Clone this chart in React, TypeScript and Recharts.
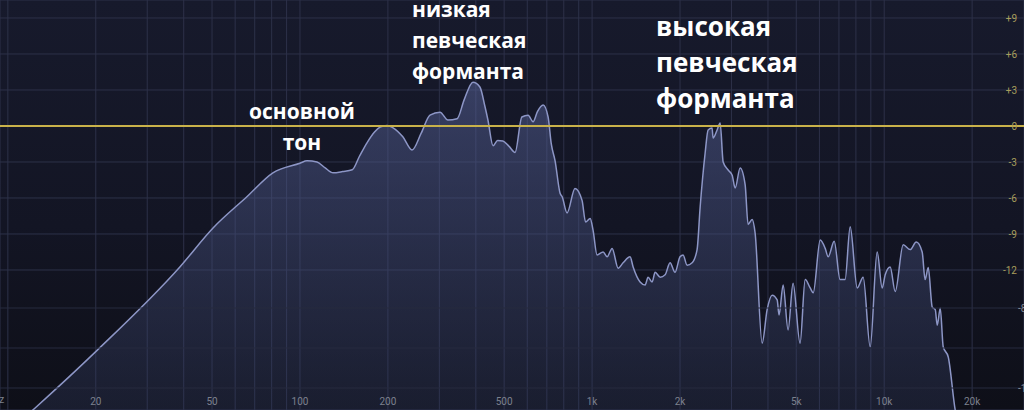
import { ComposedChart, Area, XAxis, YAxis, CartesianGrid, ReferenceLine } from "recharts";

// spectrum of a sung vowel (Hz / dB)
const freqs = [
  11.4, 12.4, 20.2, 38.8, 50.4, 65.8, 80.8, 100, 105.7, 114.4,
  122, 129.7, 140, 151, 160, 169.6, 180, 187.9, 198.6, 208.2,
  225, 241.9, 260, 278.7, 301.6, 321, 345, 365, 391, 413,
  430, 440, 458, 475, 495, 520, 545, 575, 604, 628,
  650, 680, 707, 725, 747, 777, 790, 821, 874, 924,
  950, 985, 1008, 1040, 1091, 1126, 1171, 1228, 1277, 1349,
  1382, 1460, 1519, 1555, 1605, 1644, 1710, 1778, 1849, 1923,
  2000, 2049, 2115, 2200, 2288, 2344, 2438, 2496, 2575, 2595,
  2679, 2744, 2810, 2923, 3017, 3089, 3212, 3342, 3420, 3531,
  3614, 3821, 3974, 4134, 4301, 4366, 4508, 4688, 4875, 5152,
  5364, 5580, 5714, 6039, 6281, 6431, 6744, 7063, 7346, 7647,
  8085, 8472, 8954, 9460, 9842, 10080, 10484, 10906, 11614, 12274,
  12874, 13490, 13804, 14150, 14603, 14953, 15190, 15554, 15922, 16566,
  17500, 18200,
];
const levels = [
  -24.3, -23.5, -18.7, -11.75, -8.5, -5.9, -3.9, -3.1, -2.9, -3.0,
  -3.5, -3.9, -3.8, -3.65, -2.5, -1.4, -0.5, -0.1, 0.05, -0.15,
  -0.9, -2.0, -0.6, 0.9, 1.15, 0.5, 0.6, 2.2, 3.65, 3.25,
  1.6, 0.5, -1.65, -1.2, -1.25, -1.7, -2.2, 0.75, 0.9, 0.35,
  1.2, 1.75, 0.75, -1.5, -2.9, -5.6, -5.9, -7.25, -5.2, -6.2,
  -8.0, -7.7, -8.7, -10.75, -10.5, -10.9, -10.2, -11.85, -11.4, -10.9,
  -11.75, -13.0, -13.25, -12.6, -13.0, -12.2, -12.6, -12.4, -11.4, -12.2,
  -10.9, -10.75, -11.6, -11.4, -10.3, -6.75, -2.25, -0.33, -0.17, -1.0,
  -0.33, 0.25, -3.0, -3.67, -4.1, -5.17, -3.5, -4.9, -8.2, -7.8,
  -8.9, -18.1, -15.3, -14.1, -14.5, -15.75, -13.25, -17.0, -13.1, -18.1,
  -12.8, -13.5, -13.9, -9.5, -10.2, -10.9, -9.6, -12.8, -12.8, -8.4,
  -13.5, -12.6, -18.4, -10.5, -13.5, -12.4, -11.75, -13.8, -9.9, -10.3,
  -9.67, -10.5, -12.8, -11.8, -15.1, -15.3, -16.6, -15.2, -18.4, -19.25,
  -23.67, -25.5,
];

const gridFreqs = [
  10, 20, 30, 40, 50, 60, 70, 80, 90,
  100, 200, 300, 400, 500, 600, 700, 800, 900,
  1000, 2000, 3000, 4000, 5000, 6000, 7000, 8000, 9000,
  10000, 20000,
];
const freqLabels: Record<number, string> = {
  20: "20", 50: "50", 100: "100", 200: "200", 500: "500",
  1000: "1k", 2000: "2k", 5000: "5k", 10000: "10k", 20000: "20k",
};
const gainTicks = [9, 6, 3, 0, -3, -6, -9, -12];
const specLines = [-80, -90, -100];
const specLabels = [-80, -100];

const lowFormant = ["низкая", "певческая", "форманта"];
const highFormant = ["высокая", "певческая", "форманта"];
const fundamental = ["основной", "тон"];

const data = freqs.map((f, i) => ({ f, db: levels[i] }));

const FreqTick = ({ x, y, payload }: any) => {
  const label = freqLabels[payload.value];
  if (!label) return null;
  return (
    <text x={x} y={y - 5} textAnchor="middle" fill="#7d818e" fontSize={10} fontFamily="Roboto, sans-serif">
      {label}
    </text>
  );
};

// scale labels of the analyser, clipped at the right edge like in the screenshot
const specLabel = (value: number) => (props: any) => {
  const vb = props.viewBox;
  return (
    <text x={vb.x + vb.width - 6} y={vb.y + 4} textAnchor="start" fill="#8a8d98" fontSize={10} fontFamily="Roboto, sans-serif">
      {value}
    </text>
  );
};

const textStyle = {
  position: "absolute" as const,
  color: "#ffffff",
  fontFamily: "'Open Sans', sans-serif",
  fontWeight: 700,
  whiteSpace: "nowrap" as const,
};

const App = () => {
  return (
    <div
      style={{
        position: "relative",
        width: 1024,
        height: 410,
        background: "linear-gradient(180deg, #171a2c 0%, #131524 55%, #0e0f18 100%)",
        overflow: "hidden",
      }}
    >
      <style>{"body{margin:0}"}</style>
      <ComposedChart width={1024} height={410} data={data} margin={{ top: 0, right: 0, bottom: 0, left: 0 }}>
        <defs>
          <linearGradient id="specFill" x1="0" y1="0" x2="0" y2="1">
            <stop offset="0%" stopColor="#5c68a0" stopOpacity={0.8} />
            <stop offset="100%" stopColor="#29314f" stopOpacity={0.62} />
          </linearGradient>
        </defs>
        <CartesianGrid xAxisId="freq" yAxisId="gain" stroke="#2d3149" strokeWidth={1} />
        <XAxis
          xAxisId="freq"
          dataKey="f"
          type="number"
          scale="log"
          domain={[9.4, 30100]}
          allowDataOverflow
          ticks={gridFreqs}
          interval={0}
          mirror
          axisLine={false}
          tickLine={false}
          tickSize={0}
          tickMargin={0}
          tick={<FreqTick />}
        />
        <YAxis
          yAxisId="gain"
          orientation="right"
          type="number"
          domain={[-23.67, 10.5]}
          allowDataOverflow
          ticks={gainTicks}
          interval={0}
          mirror
          axisLine={false}
          tickLine={false}
          tickSize={0}
          tickMargin={7}
          tick={{ fill: "#a89e5c", fontSize: 10, fontFamily: "Roboto, sans-serif" }}
          tickFormatter={(v: number) => (v > 0 ? `+${v}` : `${v}`)}
        />
        <YAxis yAxisId="spec" orientation="right" type="number" domain={[-105.5, -3]} allowDataOverflow hide />
        {specLines.map((v) => (
          <ReferenceLine
            key={v}
            xAxisId="freq"
            yAxisId="spec"
            y={v}
            stroke="#262a3e"
            strokeWidth={1}
            label={specLabels.includes(v) ? specLabel(v) : undefined}
          />
        ))}
        <Area
          xAxisId="freq"
          yAxisId="gain"
          dataKey="db"
          type="monotone"
          baseValue="dataMin"
          stroke="#8d96c6"
          strokeWidth={1.5}
          fill="url(#specFill)"
          isAnimationActive={false}
          dot={false}
          activeDot={false}
        />
        <ReferenceLine xAxisId="freq" yAxisId="gain" y={0} stroke="#c9b24a" strokeWidth={2} />
      </ComposedChart>

      <div style={{ ...textStyle, left: 302, top: 96, fontSize: 21, lineHeight: "31px", textAlign: "center", transform: "translateX(-50%)" }}>
        {fundamental.map((t) => (
          <div key={t}>{t}</div>
        ))}
      </div>
      <div style={{ ...textStyle, left: 412, top: -6, fontSize: 21, lineHeight: "31px" }}>
        {lowFormant.map((t, i) => (
          <div key={i}>{t}</div>
        ))}
      </div>
      <div style={{ ...textStyle, left: 656, top: 8, fontSize: 26, lineHeight: "36px" }}>
        {highFormant.map((t, i) => (
          <div key={i}>{t}</div>
        ))}
      </div>
      <div style={{ position: "absolute", left: -8, top: 394, color: "#7d818e", fontSize: 10, fontFamily: "Roboto, sans-serif" }}>
        Hz
      </div>
    </div>
  );
};

export default App;
